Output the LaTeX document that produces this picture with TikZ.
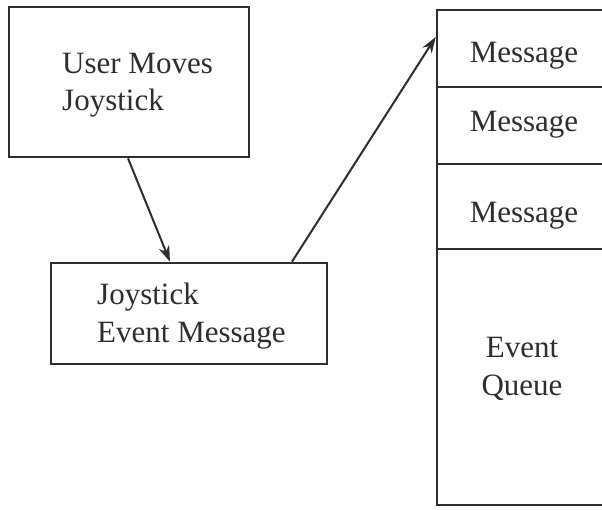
\documentclass[tikz,border=0pt]{standalone}
\usepackage{fontspec}
\setmainfont{Liberation Serif}
\usetikzlibrary{arrows.meta}
\definecolor{ink}{gray}{0.18}
\tikzset{
  box/.style={draw=ink, line width=2.6pt, rectangle, inner sep=0pt},
  label/.style={inner sep=0pt, text=ink, font=\fontsize{31}{37}\selectfont},
  flow/.style={draw=ink, line width=2pt, -{Stealth[length=16pt,width=11pt]}},
}
\begin{document}
\begin{tikzpicture}[x=1pt,y=-1pt]
  \useasboundingbox (0,0) rectangle (602,509);
  \fill[white] (0,0) rectangle (602,509);
  \clip (0,0) rectangle (602,509);

  % source and message boxes
  \node[box, minimum width=240pt, minimum height=150pt] (user) at (129,82) {};
  \node[box, minimum width=276pt, minimum height=101pt] (jmsg) at (189,313.5) {};

  % event queue: cells stacked down the right side
  \node[box, minimum width=180pt, minimum height=77pt] (q1) at (527,48.5) {};
  \node[box, minimum width=180pt, minimum height=77pt] (q2) at (527,125.5) {};
  \node[box, minimum width=180pt, minimum height=85pt] (q3) at (527,206.5) {};
  \node[box, minimum width=180pt, minimum height=256pt] (q4) at (527,377) {};

  % texts
  \node[label, anchor=base west] (t1) at (62,73) {User Moves};
  \node[label, anchor=base west] (t2) at (62,110) {Joystick};
  \node[label, anchor=base west] (t3) at (97,304) {Joystick};
  \node[label, anchor=base west] (t4) at (97,342) {Event Message};
  \node[label, anchor=base] (m1) at (524,62) {Message};
  \node[label, anchor=base] (m2) at (524,131) {Message};
  \node[label, anchor=base] (m3) at (524,222) {Message};
  \node[label, anchor=base] (e1) at (522,357) {Event};
  \node[label, anchor=base] (e2) at (522,395) {Queue};

  % connectors
  \coordinate (qin) at ([yshift=11.5pt]q1.west);
  \draw[flow] ([xshift=-1pt]user.south) -- ([xshift=-19pt]jmsg.north);
  \draw[flow] ([xshift=103pt]jmsg.north) -- (qin);
\end{tikzpicture}
\end{document}
